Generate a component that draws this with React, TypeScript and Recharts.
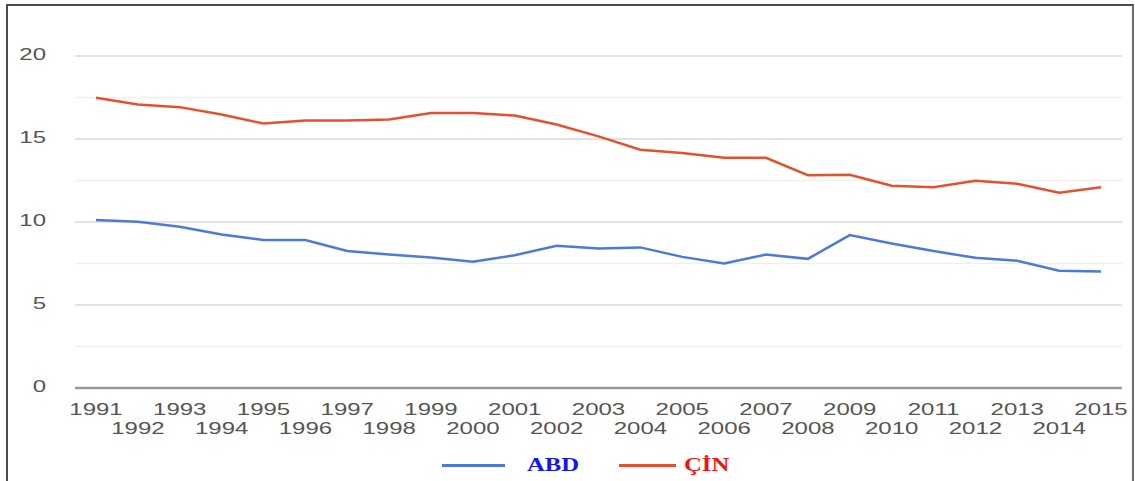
import React from "react";
import {
  LineChart,
  Line,
  XAxis,
  YAxis,
  CartesianGrid,
  Legend,
} from "recharts";

const years = [
  "1991", "1992", "1993", "1994", "1995", "1996", "1997", "1998", "1999",
  "2000", "2001", "2002", "2003", "2004", "2005", "2006", "2007", "2008",
  "2009", "2010", "2011", "2012", "2013", "2014", "2015",
];

const abdValues = [
  10.12, 10.02, 9.72, 9.25, 8.91, 8.91, 8.25, 8.04, 7.86, 7.6, 8.0, 8.57, 8.4,
  8.47, 7.9, 7.5, 8.04, 7.78, 9.21, 8.71, 8.25, 7.84, 7.66, 7.06, 7.02,
];

const cinValues = [
  17.48, 17.08, 16.92, 16.47, 15.93, 16.11, 16.11, 16.17, 16.57, 16.57, 16.41,
  15.87, 15.16, 14.35, 14.15, 13.87, 13.87, 12.82, 12.84, 12.18, 12.1, 12.48,
  12.3, 11.77, 12.1,
];

const yTicks = [0, 5, 10, 15, 20];
const minorTicks = [2.5, 7.5, 12.5, 17.5];
const seriesNames = ["ABD", "ÇİN"];

const chartData = years.map((year, i) => ({
  year,
  ABD: abdValues[i],
  "ÇİN": cinValues[i],
}));

const lineColors: Record<string, string> = { ABD: "#4a7bd8", "ÇİN": "#e3512f" };
const textColors: Record<string, string> = { ABD: "#1414f0", "ÇİN": "#f01414" };

const XTick = (props: any) => {
  const { x, y, payload, index } = props;
  const dy = index % 2 === 0 ? 27 : 46;
  return (
    <text
      transform={`translate(${x},${y + dy}) scale(1.5,1)`}
      textAnchor="middle"
      fill="#555"
      fontSize={16}
      fontFamily="Liberation Sans, Arial, sans-serif"
    >
      {payload.value}
    </text>
  );
};

const YTick = (props: any) => {
  const { x, y, payload } = props;
  return (
    <text
      transform={`translate(${x},${y + 4}) scale(1.5,1)`}
      textAnchor="end"
      fill="#555"
      fontSize={16}
      fontFamily="Liberation Sans, Arial, sans-serif"
    >
      {payload.value}
    </text>
  );
};

const renderLegend = () => (
  <div style={{ display: "flex", alignItems: "center", paddingLeft: 442, height: 24 }}>
    {seriesNames.map((name, i) => (
      <div key={name} style={{ display: "flex", alignItems: "center", marginLeft: i === 0 ? 0 : 40 }}>
        <div style={{ width: i === 0 ? 63 : 57, height: 3, background: lineColors[name] }} />
        <span
          style={{
            display: "inline-block",
            marginLeft: i === 0 ? 22 : 8,
            width: i === 0 ? 52 : 46,
            color: textColors[name],
            fontFamily: "Liberation Serif, Times New Roman, serif",
            fontWeight: "bold",
            fontSize: 19,
            lineHeight: "24px",
            transform: "scaleX(1.3)",
            transformOrigin: "left center",
          }}
        >
          {name}
        </span>
      </div>
    ))}
  </div>
);

export default function App() {
  return (
    <div style={{ position: "absolute", left: 0, top: 0, width: 1135, height: 481, background: "#fff" }}>
      <div
        style={{
          position: "absolute",
          left: 6,
          top: 4,
          width: 1124,
          height: 475,
          borderTop: "2px solid #4a4a4a",
          borderLeft: "2px solid #4a4a4a",
          borderRight: "2px solid #6a6a6a",
          borderBottom: "1px solid #ddd",
        }}
      />
      <div style={{ position: "absolute", left: 0, top: 0 }}>
        <LineChart
          width={1135}
          height={481}
          data={chartData}
          margin={{ top: 56, right: 13, bottom: 33, left: 7 }}
        >
          <CartesianGrid vertical={false} horizontalValues={minorTicks} stroke="#efefef" strokeWidth={1.5} />
          <CartesianGrid vertical={false} horizontalValues={yTicks.filter((t) => t > 0)} stroke="#d8d8d8" strokeWidth={1.5} />
          <XAxis
            dataKey="year"
            interval={0}
            tickLine={false}
            tickSize={0}
            tickMargin={0}
            height={60}
            padding={{ left: 21, right: 21 }}
            axisLine={{ stroke: "#999", strokeWidth: 2.5 }}
            tick={<XTick />}
          />
          <YAxis
            domain={[0, 20]}
            ticks={yTicks}
            width={68}
            tickLine={false}
            tickSize={0}
            tickMargin={29}
            axisLine={false}
            tick={<YTick />}
          />
          <Legend
            layout="horizontal"
            verticalAlign="middle"
            wrapperStyle={{ top: 453, left: 0, width: 1135 }}
            content={renderLegend}
          />
          {seriesNames.map((name) => (
            <Line
              key={name}
              type="linear"
              dataKey={name}
              stroke={lineColors[name]}
              strokeWidth={2.5}
              dot={false}
              isAnimationActive={false}
            />
          ))}
        </LineChart>
      </div>
    </div>
  );
}
